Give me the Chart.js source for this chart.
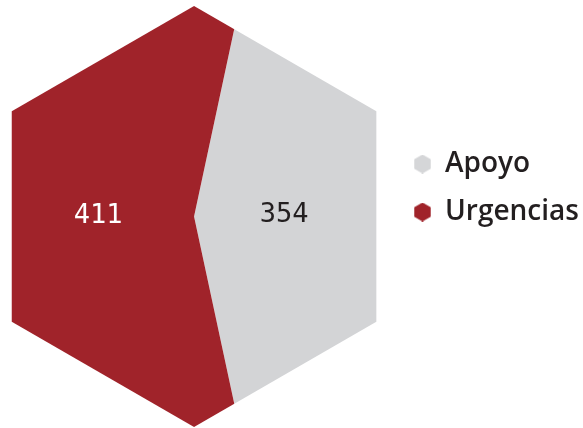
<!DOCTYPE html>
<html><head><meta charset="utf-8">
<script src="https://cdn.jsdelivr.net/npm/chart.js@4/dist/chart.umd.min.js"></script>
<style>html,body{margin:0;padding:0;background:#fff}#wrap{width:583px;height:428px;position:relative}</style>
</head><body><div id="wrap"><canvas id="c"></canvas></div>
<script>
const categories = ['Apoyo', 'Urgencias'];
const values = [354, 411];
const sliceColors = ['#d3d4d6', '#a0232a'];
const markerColors = ['#d5d6d8', '#a0232a'];
const valueLabelColors = ['#231f20', '#ffffff'];

const HEX_R = 210.5;
const SQUASH = 0.548;
const LABEL_DIST = 93;
const LABEL_SHIFT_X = -3;

function hexPath(ctx, cx, cy, r) {
  ctx.beginPath();
  for (let i = 0; i < 6; i++) {
    const a = -Math.PI / 2 + i * Math.PI / 3;
    const x = cx + r * Math.cos(a), y = cy + r * Math.sin(a);
    if (i === 0) ctx.moveTo(x, y); else ctx.lineTo(x, y);
  }
  ctx.closePath();
}
function makeMarker(color) {
  const c = document.createElement('canvas');
  c.width = 17; c.height = 19;
  const x = c.getContext('2d');
  x.fillStyle = color;
  hexPath(x, 8.5, 9.5, 9.5);
  x.fill();
  return c;
}
const markers = markerColors.map(makeMarker);

const hexPie = {
  id: 'hexPie',
  afterLayout(chart) {
    const lg = chart.legend;
    if (lg) { lg.left = 394; lg.right = 583; lg.top = 130; }
  },
  beforeDatasetsDraw(chart) {
    const arc = chart.getDatasetMeta(0).data[0];
    const ctx = chart.ctx;
    ctx.save();
    hexPath(ctx, arc.x, arc.y, HEX_R);
    ctx.clip();
    ctx.translate(arc.x, arc.y);
    ctx.scale(1, SQUASH);
    ctx.translate(-arc.x, -arc.y);
  },
  afterDatasetsDraw(chart) {
    const ctx = chart.ctx;
    ctx.restore();
    const meta = chart.getDatasetMeta(0);
    meta.data.forEach((a, i) => {
      const mid = (a.startAngle + a.endAngle) / 2;
      const x = a.x + LABEL_DIST * Math.cos(mid) + LABEL_SHIFT_X;
      const y = a.y + LABEL_DIST * SQUASH * Math.sin(mid);
      ctx.save();
      ctx.font = '27px "DejaVu Sans Mono"';
      ctx.fillStyle = valueLabelColors[i];
      ctx.textAlign = 'center';
      ctx.textBaseline = 'alphabetic';
      ctx.fillText(String(values[i]), x, y + 6);
      ctx.restore();
    });
  }
};

new Chart(document.getElementById('c'), {
  type: 'pie',
  data: {
    labels: categories,
    datasets: [{ data: values, backgroundColor: sliceColors, borderWidth: 0 }]
  },
  options: {
    responsive: true,
    maintainAspectRatio: false,
    animation: false,
    events: [],
    rotation: 6.7,
    radius: 420,
    layout: { padding: { top: 5, left: 0, right: 0, bottom: 0 } },
    plugins: {
      tooltip: { enabled: false },
      legend: {
        position: 'right',
        align: 'start',
        labels: {
          usePointStyle: true,
          boxWidth: 17,
          padding: 20,
          color: '#231f20',
          font: { family: '"Open Sans"', size: 28, weight: '600' },
          generateLabels: (chart) => categories.map((t, i) => ({
            text: t, fillStyle: sliceColors[i], strokeStyle: sliceColors[i],
            lineWidth: 0, pointStyle: markers[i], hidden: false, index: i,
            fontColor: '#231f20'
          }))
        }
      }
    }
  },
  plugins: [hexPie]
});
</script>
</body></html>
